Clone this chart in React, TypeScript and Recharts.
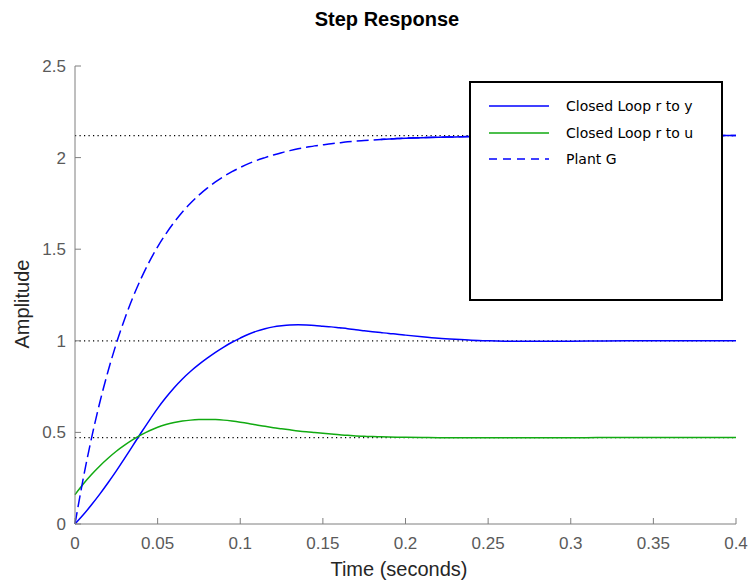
import { LineChart, Line, XAxis, YAxis, ReferenceLine, Legend, Label } from "recharts"

// time samples (seconds)
const timeValues = [
  0, 0.005, 0.01, 0.015, 0.02, 0.025, 0.03, 0.035, 0.04, 0.045,
  0.05, 0.055, 0.06, 0.065, 0.07, 0.075, 0.08, 0.085, 0.09, 0.095,
  0.1, 0.105, 0.11, 0.115, 0.12, 0.125, 0.13, 0.135, 0.14, 0.145,
  0.15, 0.155, 0.16, 0.165, 0.17, 0.175, 0.18, 0.185, 0.19, 0.195,
  0.2, 0.21, 0.22, 0.23, 0.24, 0.25, 0.26, 0.27, 0.28, 0.29,
  0.3, 0.32, 0.34, 0.36, 0.38, 0.4,
]

// Closed Loop r to y
const closedLoopY = [
  0, 0.05, 0.105, 0.163, 0.225, 0.29, 0.358, 0.428, 0.498, 0.566,
  0.631, 0.69, 0.744, 0.792, 0.834, 0.871, 0.905, 0.937, 0.966, 0.992,
  1.015, 1.036, 1.053, 1.066, 1.076, 1.082, 1.086, 1.087, 1.086, 1.084,
  1.08, 1.076, 1.071, 1.066, 1.06, 1.055, 1.05, 1.045, 1.04, 1.036,
  1.031, 1.022, 1.014, 1.008, 1.003, 1.0, 0.998, 0.997, 0.997, 0.997,
  0.998, 0.999, 1.0, 1.0, 1.0, 1.0,
]

// Closed Loop r to u
const closedLoopU = [
  0.16, 0.218, 0.27, 0.317, 0.359, 0.397, 0.43, 0.46, 0.486, 0.509,
  0.528, 0.543, 0.554, 0.562, 0.567, 0.57, 0.571, 0.57, 0.567, 0.562,
  0.556, 0.549, 0.541, 0.533, 0.526, 0.52, 0.514, 0.508, 0.503, 0.499,
  0.495, 0.491, 0.487, 0.484, 0.481, 0.479, 0.477, 0.476, 0.475, 0.474,
  0.473, 0.472, 0.471, 0.471, 0.471, 0.471, 0.471, 0.471, 0.471, 0.471,
  0.471, 0.472, 0.472, 0.472, 0.472, 0.472,
]

// Plant G
const plantG = [
  0, 0.249, 0.469, 0.663, 0.834, 0.985, 1.118, 1.236, 1.34, 1.432,
  1.513, 1.584, 1.647, 1.703, 1.752, 1.795, 1.833, 1.867, 1.897, 1.923,
  1.946, 1.967, 1.985, 2.0, 2.014, 2.027, 2.038, 2.048, 2.056, 2.064,
  2.07, 2.076, 2.081, 2.086, 2.09, 2.093, 2.096, 2.099, 2.102, 2.104,
  2.106, 2.109, 2.111, 2.113, 2.115, 2.116, 2.117, 2.118, 2.118, 2.119,
  2.119, 2.12, 2.12, 2.12, 2.12, 2.12,
]

// past this time the dashed plant curve is drawn solid in the reference
const plantSolidFrom = 0.185

const steadyStates = [2.12, 1, 0.4717]

const legendOrder = ["Closed Loop r to y", "Closed Loop r to u", "Plant G"]

const xTicks = [0, 0.05, 0.1, 0.15, 0.2, 0.25, 0.3, 0.35, 0.4]
const yTicks = [0, 0.5, 1, 1.5, 2, 2.5]

const data = timeValues.map((t, i) => ({
  t,
  y: closedLoopY[i],
  u: closedLoopU[i],
  g: plantG[i],
  gTail: t >= plantSolidFrom ? plantG[i] : null,
}))

const AXIS = "#7f7f7f"
const TICK_TEXT = "#5a5a5a"
const LABEL_TEXT = "#262626"
const FONT = "'Liberation Sans', Arial, sans-serif"
const BLUE = "#0000ff"
const GREEN = "#11aa11"

const BottomTick = ({ x, y, payload }: any) => (
  <g>
    <line x1={x} y1={y} x2={x} y2={y - 6} stroke={AXIS} />
    <text x={x} y={y + 25} textAnchor="middle" fill={TICK_TEXT} fontSize={17} fontFamily={FONT}>
      {String(payload.value)}
    </text>
  </g>
)

const TopTick = ({ x, y }: any) => <line x1={x} y1={y} x2={x} y2={y + 6} stroke={AXIS} />

const LeftTick = ({ x, y, payload }: any) => (
  <g>
    <line x1={x} y1={y} x2={x + 6} y2={y} stroke={AXIS} />
    <text x={x - 9} y={y + 6} textAnchor="end" fill={TICK_TEXT} fontSize={17} fontFamily={FONT}>
      {String(payload.value)}
    </text>
  </g>
)

const RightTick = ({ x, y }: any) => <line x1={x} y1={y} x2={x - 6} y2={y} stroke={AXIS} />

const renderLegend = (props: any) => {
  const items = (props.payload || [])
    .filter((e: any) => e.type !== "none" && legendOrder.includes(e.value))
    .sort((a: any, b: any) => legendOrder.indexOf(a.value) - legendOrder.indexOf(b.value))
  return (
    <div
      style={{
        boxSizing: "border-box",
        width: 254,
        height: 220,
        border: "2px solid #000",
        background: "#fff",
        position: "relative",
        fontFamily: "'DejaVu Sans', sans-serif",
        fontSize: 14,
        color: "#000",
      }}
    >
      {items.map((e: any, i: number) => (
        <div
          key={e.value}
          style={{ position: "absolute", left: 0, top: 11 + i * 26.5, height: 24, display: "flex", alignItems: "center" }}
        >
          <svg width={95} height={24} style={{ display: "block" }}>
            <line
              x1={18}
              x2={78}
              y1={12}
              y2={12}
              stroke={e.color}
              strokeWidth={1.5}
              strokeDasharray={e.payload && e.payload.strokeDasharray ? "8 6" : undefined}
            />
          </svg>
          <span style={{ whiteSpace: "nowrap" }}>{e.value}</span>
        </div>
      ))}
    </div>
  )
}

export default function App() {
  return (
    <div style={{ position: "absolute", left: 0, top: 0, width: 749, height: 580, background: "#fff" }}>
      <div
        style={{
          position: "absolute",
          left: 0,
          top: 8,
          width: 774,
          textAlign: "center",
          fontFamily: FONT,
          fontWeight: "bold",
          fontSize: 20,
          color: "#000",
        }}
      >
        Step Response
      </div>
      <LineChart width={749} height={580} data={data} margin={{ top: 66, right: 13, bottom: 26, left: 35 }}>
        <XAxis
          dataKey="t"
          type="number"
          domain={[0, 0.4]}
          ticks={xTicks}
          height={30}
          stroke={AXIS}
          tickLine={false}
          tickSize={0}
          tickMargin={0}
          tick={<BottomTick />}
          interval={0}
        >
          <Label
            content={() => (
              <text x={399} y={576} textAnchor="middle" fill={LABEL_TEXT} fontSize={20} fontFamily={FONT}>
                Time (seconds)
              </text>
            )}
          />
        </XAxis>
        <XAxis
          xAxisId="top"
          orientation="top"
          dataKey="t"
          type="number"
          domain={[0, 0.4]}
          ticks={xTicks}
          height={0}
          stroke={AXIS}
          tickLine={false}
          tickSize={0}
          tickMargin={0}
          tick={<TopTick />}
          interval={0}
        />
        <YAxis
          type="number"
          domain={[0, 2.5]}
          ticks={yTicks}
          width={40}
          stroke={AXIS}
          tickLine={false}
          tickSize={0}
          tickMargin={0}
          tick={<LeftTick />}
          interval={0}
        >
          <Label
            content={() => (
              <text
                x={29}
                y={304}
                transform="rotate(-90, 29, 304)"
                textAnchor="middle"
                fill={LABEL_TEXT}
                fontSize={20}
                fontFamily={FONT}
              >
                Amplitude
              </text>
            )}
          />
        </YAxis>
        <YAxis
          yAxisId="right"
          orientation="right"
          type="number"
          domain={[0, 2.5]}
          ticks={yTicks}
          width={0}
          stroke={AXIS}
          tickLine={false}
          tickSize={0}
          tickMargin={0}
          tick={<RightTick />}
          interval={0}
        />
        {steadyStates.map((v) => (
          <ReferenceLine key={v} y={v} stroke="#000" strokeWidth={1.2} strokeDasharray="1.2 3.3" />
        ))}
        <Line
          dataKey="y"
          name="Closed Loop r to y"
          stroke={BLUE}
          strokeWidth={1.5}
          dot={false}
          type="monotone"
          isAnimationActive={false}
        />
        <Line
          dataKey="u"
          name="Closed Loop r to u"
          stroke={GREEN}
          strokeWidth={1.5}
          dot={false}
          type="monotone"
          isAnimationActive={false}
        />
        <Line
          dataKey="g"
          name="Plant G"
          stroke={BLUE}
          strokeWidth={1.5}
          strokeDasharray="12 5"
          dot={false}
          type="monotone"
          isAnimationActive={false}
        />
        <Line
          dataKey="gTail"
          stroke={BLUE}
          strokeWidth={1.5}
          dot={false}
          type="monotone"
          legendType="none"
          connectNulls={false}
          isAnimationActive={false}
        />
        <Legend
          layout="horizontal"
          verticalAlign="middle"
          align="center"
          content={renderLegend}
          wrapperStyle={{ left: 469, top: 81, width: 254, height: 220 }}
        />
      </LineChart>
    </div>
  )
}
